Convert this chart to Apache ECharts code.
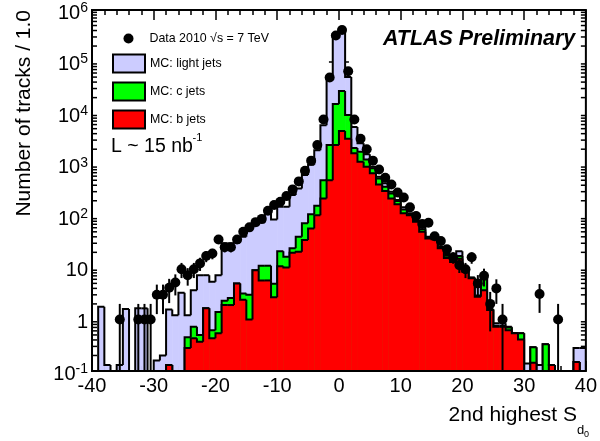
<!DOCTYPE html>
<html><head><meta charset="utf-8">
<script src="https://cdn.jsdelivr.net/npm/echarts@6/dist/echarts.min.js"></script>
<style>html,body{margin:0;padding:0;background:#fff}#c{width:600px;height:441px}</style>
</head><body><div id="c"></div>
<script>
// bin lower edges (bin width 1)
const binStart = [-40,-39,-38,-37,-36,-35,-34,-33,-32,-31,-30,-29,-28,-27,-26,-25,-24,-23,-22,-21,
 -20,-19,-18,-17,-16,-15,-14,-13,-12,-11,-10,-9,-8,-7,-6,-5,-4,-3,-2,-1,
 0,1,2,3,4,5,6,7,8,9,10,11,12,13,14,15,16,17,18,19,
 20,21,22,23,24,25,26,27,28,29,30,31,32,33,34,35,36,37,38,39];
// stacked MC: light + c + b (top of light band)
const stackLight = [
 0,1.76,0.13,0,0.13,1.6,0,1.64,1.64,0,
 0.16,0.2,1.55,1.2,3.3,1.2,3.7,7.2,7.2,5.4,
 7.2,30,30,30.6,40,58,67,76,122,87,
 153,153,258,347,630,1000,1900,5800,50000,340000,
 430000,50000,5400,2600,1600,910,585,435,300,206,
 149,114,85,63,40,36.5,25.7,18.5,16.8,21,
 9,6.5,4.6,7.2,1.6,0.84,0.84,0.72,0.54,0.54,
 0.14,0.29,0.13,0.33,0.13,0,0,0,0.28,0.28];
// stacked MC: c + b (top of c band)
const stackC = [
 0,0,0,0,0,0,0,0,0,0,
 0,0,0.13,0,0,0.45,0.72,0.5,1.64,0.62,
 1.4,2.3,2.6,5.0,3.2,3.0,9,11,11,4.9,
 21,16.4,24,40,73,110,160,500,2400,15000,
 27000,9200,2100,1780,1260,850,540,373,277,197,
 136,110,83,56,38,36,24.5,17.2,14,17,
 8.8,6.4,2.9,7.0,1.55,0.75,0.75,0.7,0.54,0.54,
 0,0.29,0,0.33,0.13,0,0,0,0.15,0];
// MC: b jets
const bJets = [
 0,0,0,0,0,0,0,0,0,0,
 0,0,0.13,0,0,0.28,0.43,0.37,1.64,0.43,
 0.54,1.9,1.9,5.0,2.4,1.0,9,5.7,5.7,2.7,
 10.8,10.2,19.6,20.5,34.6,58,105,222,500,2400,
 4500,3200,1660,1140,910,680,415,310,222,172,
 114,105,78,50,37,36,24,15.6,13,15,
 8.4,6.3,2.75,3.7,1.52,0.72,0.72,0.62,0.54,0.41,
 0,0.145,0,0,0.13,0,0,0,0.15,0];
// Data 2010 (bin centres, counts)
const dataX = [-35.5,-32.5,-31.5,-30.5,-29.5,-28.5,-27.5,-26.5,-25.5,-24.5,-23.5,-22.5,-21.5,-20.5,
 -19.5,-18.5,-17.5,-16.5,-15.5,-14.5,-13.5,-12.5,-11.5,-10.5,-9.5,-8.5,-7.5,-6.5,-5.5,-4.5,-3.5,-2.5,-1.5,-0.5,
 0.5,1.5,2.5,3.5,4.5,5.5,6.5,7.5,8.5,9.5,10.5,11.5,12.5,13.5,14.5,15.5,16.5,17.5,18.5,19.5,
 20.5,21.5,22.5,23.5,24.5,25.5,26.5,32.5,35.5];
const dataY = [1,1,1,1,3,3,4.1,5.2,9.4,7.2,9.4,12.2,17,19,
 35.6,25,25,35.6,50,61,77,89,128,165,191,246,332,475,760,1200,2400,7500,49000,320000,
 410000,65000,7500,3200,2000,1200,810,560,415,290,232,149,101,71,75,41,33,23,16,11.3,
 9.4,16,5.0,7.0,2.0,4.0,1.0,3.1,1.0];

const Y_MIN = 0.1, Y_MAX = 1e6, X_MIN = -40, X_MAX = 40, BIN_W = 1;
const FONT = 'Liberation Sans, Arial, Helvetica, sans-serif';

function histSeries(name, values, color, z) {
  return {
    type: 'custom', name: name, z: z, clip: true,
    data: binStart.map((b, i) => [b, values[i]]),
    renderItem: function (params, api) {
      const i = params.dataIndex;
      const x0 = api.value(0), v = api.value(1);
      const yv = Math.max(v, Y_MIN);
      const yp = i > 0 ? Math.max(values[i - 1], Y_MIN) : Y_MIN;
      const pBL = api.coord([x0, Y_MIN]);
      const pTR = api.coord([x0 + BIN_W, yv]);
      const pPrev = api.coord([x0, yp]);
      const children = [];
      if (v > Y_MIN) {
        children.push({type: 'rect', shape: {x: pBL[0], y: pTR[1], width: pTR[0] - pBL[0] + 0.5, height: pBL[1] - pTR[1]},
          style: {fill: color}});
      }
      const pts = [[pBL[0], pPrev[1]], [pBL[0], pTR[1]], [pTR[0], pTR[1]]];
      if (i === values.length - 1) pts.push([pTR[0], pBL[1]]);
      children.push({type: 'polyline', shape: {points: pts}, style: {stroke: '#000', lineWidth: 2, fill: null}, z2: 10});
      return {type: 'group', children: children};
    }
  };
}

// minor log ticks 2..9 per decade (axis decoration)
const minorVals = [];
for (let e = -1; e < 6; e++) for (let m = 2; m <= 9; m++) minorVals.push(m * Math.pow(10, e));

const chart = echarts.init(document.getElementById('c'), null, {renderer: 'canvas'});
const option = {
  animation: false,
  textStyle: {fontFamily: FONT, color: '#000'},
  grid: {left: 92, right: 12, top: 10, bottom: 70, show: true, borderColor: '#000', borderWidth: 2, backgroundColor: 'transparent', z: 10},
  xAxis: [{
    type: 'value', min: X_MIN, max: X_MAX, interval: 10,
    axisLine: {show: false},
    axisTick: {show: true, inside: true, length: 10, lineStyle: {color: '#000', width: 1.5}},
    minorTick: {show: true, splitNumber: 5, length: 5, lineStyle: {color: '#000', width: 1.5}},
    splitLine: {show: false}, minorSplitLine: {show: false},
    axisLabel: {fontSize: 20, color: '#000', margin: 5, fontFamily: FONT}
  }, {
    type: 'value', position: 'top', min: X_MIN, max: X_MAX, interval: 10,
    axisLine: {show: false},
    axisTick: {show: true, inside: true, length: 10, lineStyle: {color: '#000', width: 1.5}},
    minorTick: {show: true, splitNumber: 5, length: 5, lineStyle: {color: '#000', width: 1.5}},
    splitLine: {show: false}, axisLabel: {show: false}
  }],
  yAxis: [{
    type: 'log', logBase: 10, min: Y_MIN, max: Y_MAX, splitNumber: 7,
    axisLine: {show: false},
    axisTick: {show: true, inside: true, length: 10, lineStyle: {color: '#000', width: 1.5}},
    splitLine: {show: false},
    axisLabel: {
      margin: 4, color: '#000', fontFamily: FONT, fontSize: 20, padding: [6, 0, 0, 0],
      formatter: function (v) {
        const e = Math.round(Math.log10(v));
        if (e === 0) return '1';
        if (e === 1) return '10';
        return '{b|10}{s|' + e + '}';
      },
      rich: {
        b: {fontSize: 20, fontFamily: FONT, color: '#000'},
        s: {fontSize: 14, fontFamily: FONT, color: '#000', verticalAlign: 'top', padding: [0, 0, 10, 0]}
      }
    }
  }, {
    type: 'log', logBase: 10, min: Y_MIN, max: Y_MAX, splitNumber: 7, position: 'right',
    axisLine: {show: false},
    axisTick: {show: true, inside: true, length: 10, lineStyle: {color: '#000', width: 1.5}},
    splitLine: {show: false}, axisLabel: {show: false}
  }],
  legend: [{
    selectedMode: false, orient: 'vertical', left: 123.5, top: 32.5, padding: 0, itemWidth: 32, itemHeight: 10,
    textStyle: {fontSize: 12.4, fontFamily: FONT, color: '#000'},
    data: [{name: 'Data 2010 √s = 7 TeV', icon: 'circle', itemStyle: {color: '#000', opacity: 1}}]
  }, {
    selectedMode: false, orient: 'vertical', left: 112, top: 53.5, padding: 0, itemWidth: 32, itemHeight: 18, itemGap: 8,
    textStyle: {fontSize: 12.4, fontFamily: FONT, color: '#000'},
    data: [
      {name: 'MC: light jets', icon: 'rect', itemStyle: {color: '#ccccff', borderColor: '#000', borderWidth: 2}},
      {name: 'MC: c jets', icon: 'rect', itemStyle: {color: '#00ff00', borderColor: '#000', borderWidth: 2}},
      {name: 'MC: b jets', icon: 'rect', itemStyle: {color: '#ff0000', borderColor: '#000', borderWidth: 2}}
    ]
  }],
  graphic: [
    {type: 'text', x: 24, y: 10, rotation: Math.PI / 2, z: 20,
     style: {text: 'Number of tracks / 1.0', font: '21px ' + FONT, fill: '#000', align: 'right', verticalAlign: 'middle'}},
    {type: 'text', x: 577, y: 415, z: 20,
     style: {text: '2nd highest S', font: '21px ' + FONT, fill: '#000', align: 'right', verticalAlign: 'middle'}},
    {type: 'text', x: 577, y: 430, z: 20,
     style: {text: 'd', font: '13px ' + FONT, fill: '#000', align: 'left', verticalAlign: 'middle'}},
    {type: 'text', x: 584, y: 435, z: 20,
     style: {text: '0', font: '9px ' + FONT, fill: '#000', align: 'left', verticalAlign: 'middle'}},
    {type: 'text', x: 383, y: 39, z: 20,
     style: {text: 'ATLAS Preliminary', font: 'italic bold 21.4px ' + FONT, fill: '#000', align: 'left', verticalAlign: 'middle'}},
    {type: 'text', x: 111, y: 147, z: 20,
     style: {text: 'L ~ 15 nb', font: '19.5px ' + FONT, fill: '#000', align: 'left', verticalAlign: 'middle'}},
    {type: 'text', x: 192.5, y: 138, z: 20,
     style: {text: '-1', font: '11px ' + FONT, fill: '#000', align: 'left', verticalAlign: 'middle'}}
  ],
  series: [
    histSeries('MC: light jets', stackLight, '#ccccff', 2),
    histSeries('MC: c jets', stackC, '#00ff00', 3),
    histSeries('MC: b jets', bJets, '#ff0000', 4),
    {
      type: 'custom', name: 'errors', z: 5, clip: true, silent: true,
      data: dataX.map((x, i) => [x, dataY[i]]),
      renderItem: function (params, api) {
        const x = api.value(0), y = api.value(1), e = Math.sqrt(y);
        const p1 = api.coord([x, Math.max(y - e, Y_MIN)]);
        const p2 = api.coord([x, Math.min(y + e, Y_MAX)]);
        return {type: 'line', shape: {x1: p1[0], y1: p1[1], x2: p2[0], y2: p2[1]}, style: {stroke: '#000', lineWidth: 2}};
      }
    },
    {
      type: 'scatter', name: 'Data 2010 √s = 7 TeV', z: 6, symbol: 'circle', symbolSize: 10,
      itemStyle: {color: '#000', opacity: 1},
      data: dataX.map((x, i) => [x, dataY[i]])
    },
    {
      type: 'custom', name: 'minorTicks', z: 1, silent: true, clip: false,
      data: minorVals.map(v => [X_MIN, v]),
      renderItem: function (params, api) {
        const v = api.value(1);
        const pl = api.coord([X_MIN, v]), pr = api.coord([X_MAX, v]);
        return {type: 'group', children: [
          {type: 'line', shape: {x1: pl[0], y1: pl[1], x2: pl[0] + 5, y2: pl[1]}, style: {stroke: '#000', lineWidth: 1.5}},
          {type: 'line', shape: {x1: pr[0], y1: pr[1], x2: pr[0] - 5, y2: pr[1]}, style: {stroke: '#000', lineWidth: 1.5}}
        ]};
      }
    }
  ]
};
chart.setOption(option);
</script>
</body></html>
